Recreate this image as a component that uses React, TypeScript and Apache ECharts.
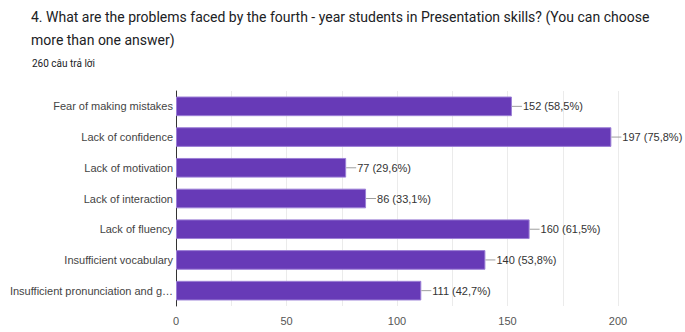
import React, { useEffect, useRef } from "react";
import * as echarts from "echarts";

const categories = [
  "Fear of making mistakes",
  "Lack of confidence",
  "Lack of motivation",
  "Lack of interaction",
  "Lack of fluency",
  "Insufficient vocabulary",
  "Insufficient pronunciation and g…",
];
const counts = [152, 197, 77, 86, 160, 140, 111];
const percents = ["58,5%", "75,8%", "29,6%", "33,1%", "61,5%", "53,8%", "42,7%"];
const titleLines = [
  "4. What are the problems faced by the fourth - year students in Presentation skills? (You can choose",
  "more than one answer)",
];
const subtitle = "260 câu trả lời";

export default function App() {
  const ref = useRef<HTMLDivElement>(null);
  useEffect(() => {
    if (!ref.current) return;
    const chart = echarts.init(ref.current, null, { renderer: "svg" });
    chart.setOption({
      animation: false,
      backgroundColor: "#ffffff",
      title: [
        {
          text: titleLines.join("\n"),
          left: 26,
          top: 0,
          textStyle: {
            fontFamily: "Roboto, sans-serif",
            fontSize: 14,
            fontWeight: "normal",
            color: "#202124",
            lineHeight: 23,
          },
        },
        {
          text: subtitle,
          left: 27,
          top: 53,
          textStyle: {
            fontFamily: "Roboto, sans-serif",
            fontSize: 10,
            fontWeight: "normal",
            color: "#202124",
          },
        },
      ],
      grid: { left: 176, right: 67, top: 91, bottom: 26, containLabel: false },
      xAxis: {
        type: "value",
        min: 0,
        max: 200,
        interval: 25,
        axisLine: { show: false },
        axisTick: { show: false },
        splitLine: { show: true, lineStyle: { color: "#ebebeb", width: 1 } },
        axisLabel: {
          fontFamily: "'Liberation Sans', Arial, sans-serif",
          fontSize: 11,
          color: "#555",
          margin: 9,
          formatter: (v: number) => (v % 50 === 0 ? String(v) : ""),
        },
      },
      yAxis: {
        type: "category",
        data: categories,
        inverse: true,
        axisLine: { show: true, lineStyle: { color: "#333", width: 1 } },
        axisTick: { show: false },
        axisLabel: {
          fontFamily: "'Liberation Sans', Arial, sans-serif",
          fontSize: 11,
          color: "#444",
          margin: 3,
        },
      },
      series: [
        {
          type: "bar",
          data: counts,
          barWidth: "64%",
          itemStyle: { color: "#673ab7", borderColor: "#9c7fd6", borderWidth: 1 },
          label: {
            show: true,
            position: "right",
            distance: 0,
            formatter: (p: any) => `{s| }{t|${p.value} (${percents[p.dataIndex]})}`,
            rich: {
              s: { width: 10, height: 1, backgroundColor: "#9e9e9e" },
              t: {
                fontFamily: "'Liberation Sans', Arial, sans-serif",
                fontSize: 11,
                color: "#333",
                padding: [0, 0, 0, 1],
              },
            },
          },
        },
      ],
    });
    return () => chart.dispose();
  }, []);
  return <div ref={ref} style={{ width: 685, height: 332, position: "absolute", left: 0, top: 0 }} />;
}
